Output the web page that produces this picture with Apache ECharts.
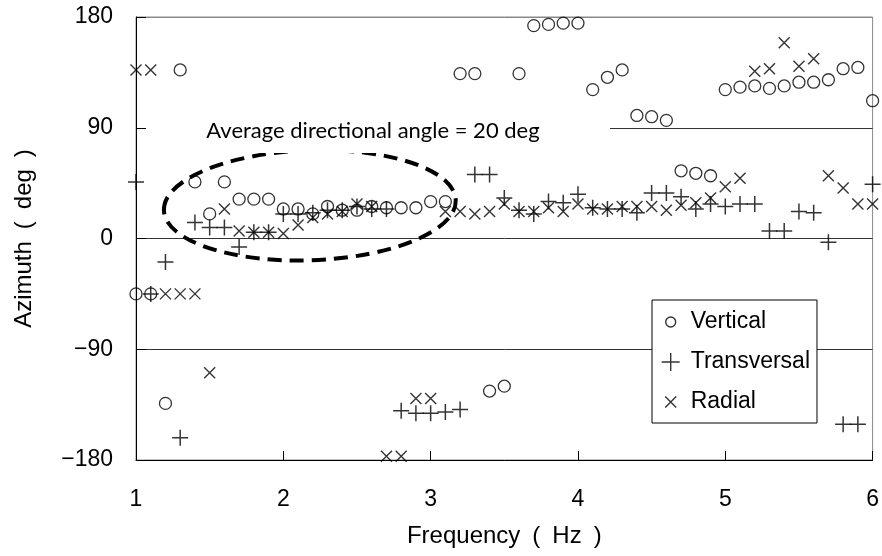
<!DOCTYPE html>
<html><head><meta charset="utf-8">
<script src="https://cdn.jsdelivr.net/npm/echarts@6/dist/echarts.min.js"></script>
<style>html,body{margin:0;padding:0;background:#fff}#c{width:882px;height:556px}</style>
</head><body><div id="c"></div>
<script>
// ---- data ----
const freq = [1.0,1.1,1.2,1.3,1.4,1.5,1.6,1.7,1.8,1.9,
              2.0,2.1,2.2,2.3,2.4,2.5,2.6,2.7,2.8,2.9,
              3.0,3.1,3.2,3.3,3.4,3.5,3.6,3.7,3.8,3.9,
              4.0,4.1,4.2,4.3,4.4,4.5,4.6,4.7,4.8,4.9,
              5.0,5.1,5.2,5.3,5.4,5.5,5.6,5.7,5.8,5.9,
              6.0];
const vertical = [-45,-45,-134,137,46,20,46,32,32,32,
                  24,24,20,26,23,23,26,25,25,25,
                  30,30,134,134,-124,-120,134,173,174,175,
                  175,121,131,137,100,99,96,55,53,51,
                  121,123,124,122,124,127,127,129,138,139,
                  112];
const transversal = [46,-45,-19,-162,13,9,9,-7,5,5,
                     20,20,21,23,23,26,24,24,-140,-142,
                     -142,-141,-139,52,52,33,23,20,30,29,
                     36,25,24,24,21,37,37,34,24,28,
                     26,28,28,6,6,22,21,-3,-151,-151,
                     44];
const radial = [137,137,-45,-45,-45,-109,24,6,5,5,
                4,11,17,20,22,28,26,-177,-177,-130,
                -130,22,22,20,22,28,22,22,25,22,
                28,24,24,26,26,26,23,27,29,33,
                42,49,136,138,159,140,146,51,41,28,
                28];
const seriesNames = ['Vertical','Transversal','Radial'];
const xTicks = [1,2,3,4,5,6];
const yTicks = [-180,-90,0,90,180];
const annotationText = 'Average directional angle = 20 deg';

// ---- chart ----
const FONT = 'Liberation Sans';
const chart = echarts.init(document.getElementById('c'), null, {renderer:'canvas'});
const pair = arr => freq.map((f,i)=>[f, arr[i]]);

const plusPath = 'path://M8,0L8,16M0,8L16,8';
const crossPath = 'path://M0,0L11,11M11,0L0,11';
const legCircle = 'path://M0,0M24,18M14,9A5,5,0,1,1,4,9A5,5,0,1,1,14,9Z';
const legPlus = 'path://M0,0M24,18M9,0L9,18M0,9L18,9';
const legCross = 'path://M0,0M24,18M3.5,3.5L14.5,14.5M14.5,3.5L3.5,14.5';

const strokeStyle = w => ({color:'rgba(0,0,0,0)', borderColor:'#000', borderWidth:w});

const option = {
  animation:false,
  backgroundColor:'#fff',
  grid:{left:136, right:5, top:17, bottom:96, show:true, borderColor:'#888', borderWidth:1, backgroundColor:'transparent'},
  xAxis:[{
    type:'value', min:xTicks[0], max:xTicks[xTicks.length-1], interval:1, position:'bottom',
    axisLine:{show:false}, axisTick:{show:false}, splitLine:{show:false},
    axisLabel:{fontFamily:FONT, fontSize:23, color:'#000', margin:28},
    name:'Frequency\u2002(\u2002Hz\u2002)', nameLocation:'middle', nameGap:64,
    nameTextStyle:{fontFamily:FONT, fontSize:24, color:'#000'}
  },{
    type:'value', min:xTicks[0], max:xTicks[xTicks.length-1], interval:1, position:'bottom',
    axisLine:{show:true, onZero:true, lineStyle:{color:'#000', width:1}},
    axisTick:{show:true, inside:true, length:9, lineStyle:{color:'#000'}},
    axisLabel:{show:false}, splitLine:{show:false}
  }],
  yAxis:{
    type:'value', min:yTicks[0], max:yTicks[yTicks.length-1], interval:90,
    axisLine:{show:true, lineStyle:{color:'#000', width:1}},
    axisTick:{show:true, inside:true, length:10, lineStyle:{color:'#000'}},
    splitLine:{show:true, lineStyle:{color:['#888','#333','#333','#333','#888'], width:1}},
    axisLabel:{fontFamily:FONT, fontSize:23, color:'#000', margin:23,
      formatter:v=>String(v).replace('-','\u2212')},
    name:'Azimuth\u2002(\u2002deg\u2002)', nameLocation:'middle', nameGap:100, nameRotate:90,
    nameTextStyle:{fontFamily:FONT, fontSize:24, color:'#000'}
  },
  legend:{
    orient:'vertical', left:652, top:300, padding:[10,7,9,9], itemGap:16,
    itemWidth:24, itemHeight:18,
    backgroundColor:'#fff', borderColor:'#000', borderWidth:1,
    textStyle:{fontFamily:FONT, fontSize:23, color:'#000', lineHeight:24},
    itemStyle:{color:'rgba(0,0,0,0)', borderColor:'#000', borderWidth:1.4},
    data:[
      {name:seriesNames[0], icon:legCircle},
      {name:seriesNames[1], icon:legPlus},
      {name:seriesNames[2], icon:legCross}
    ],
    z:20
  },
  series:[
    {name:seriesNames[0], type:'scatter', data:pair(vertical), symbol:'circle', symbolSize:12,
     itemStyle:strokeStyle(1.3), z:3},
    {name:seriesNames[1], type:'scatter', data:pair(transversal), symbol:plusPath, symbolSize:16,
     itemStyle:strokeStyle(1.5), z:3},
    {name:seriesNames[2], type:'scatter', data:pair(radial), symbol:crossPath, symbolSize:11,
     itemStyle:strokeStyle(1.4), z:3}
  ]
};
chart.setOption(option);

const ctr = chart.convertToPixel({seriesIndex:0}, [2.18, 27]);
chart.setOption({
  graphic:[
    {type:'ellipse', z:50, shape:{cx:0, cy:0, rx:146, ry:55}, x:ctr[0], y:ctr[1], rotation:0.035,
     style:{fill:'none', stroke:'#000', lineWidth:4, lineDash:[14,8]}, silent:true},
    {type:'rect', z:60, shape:{x:146, y:114, width:464, height:39}, style:{fill:'#fff'}, silent:true},
    {type:'text', z:61, x:373, y:131, style:{text:annotationText, fontFamily:'Lato', fontSize:22,
      fill:'#000', align:'center', verticalAlign:'middle'}, silent:true}
  ]
});
</script></body></html>
